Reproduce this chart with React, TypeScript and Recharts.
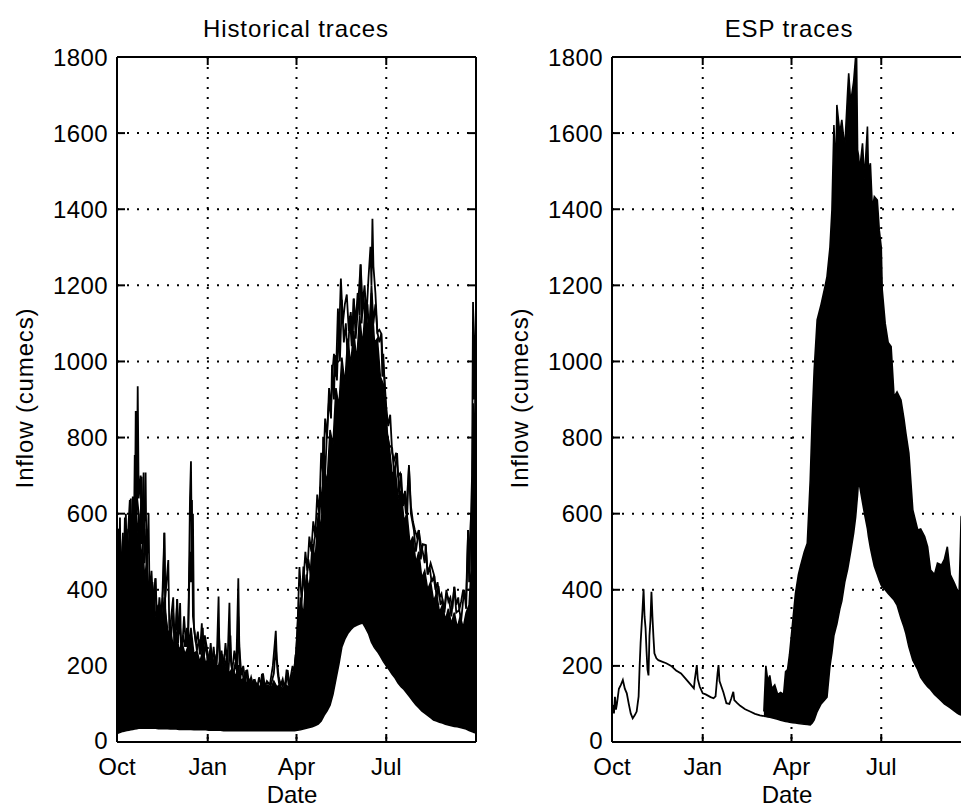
import React from 'react';
import { ComposedChart, Line, Area, XAxis, YAxis, CartesianGrid } from 'recharts';

const monthTicks = [0, 92, 182, 273];
const monthLabels = ['Oct', 'Jan', 'Apr', 'Jul'];
const flowTicks = [0, 200, 400, 600, 800, 1000, 1200, 1400, 1600, 1800];

// Historical traces: dense envelope [day, low, high]
const histBand: [number, number, number][] = [
  [0, 22, 480], [2, 24, 560], [4, 26, 460], [6, 28, 540], [8, 29, 470], [10, 30, 560], [12, 31, 480], [14, 32, 600],
  [16, 33, 500], [18, 34, 620], [20, 35, 540], [22, 36, 600], [24, 36, 480], [26, 36, 520], [28, 36, 430],
  [30, 36, 470], [33, 36, 380], [36, 36, 420], [39, 36, 330], [42, 35, 360], [45, 35, 300], [48, 35, 380],
  [51, 35, 280], [54, 34, 300], [57, 34, 250], [60, 34, 290], [63, 33, 240], [66, 33, 260], [69, 33, 230],
  [72, 33, 250], [75, 33, 300], [78, 32, 230], [81, 32, 240], [84, 32, 210], [87, 32, 240], [90, 32, 205],
  [93, 31, 225], [96, 31, 200], [99, 31, 215], [102, 31, 190], [105, 31, 220], [108, 30, 185], [111, 30, 200],
  [114, 30, 180], [117, 30, 195], [120, 30, 170], [123, 30, 200], [126, 30, 160], [129, 30, 170], [132, 30, 150],
  [135, 30, 165], [138, 30, 145], [141, 30, 155], [144, 30, 140], [147, 30, 160], [150, 30, 138], [153, 30, 150],
  [156, 30, 140], [159, 30, 160], [162, 30, 145], [165, 30, 150], [168, 30, 138], [171, 30, 150], [174, 30, 145],
  [177, 30, 170], [180, 30, 200], [183, 31, 260], [186, 32, 380], [189, 34, 330], [192, 36, 440], [195, 38, 400],
  [198, 40, 520], [201, 43, 480], [204, 47, 600], [207, 55, 560], [210, 70, 720], [213, 82, 680], [216, 97, 820],
  [219, 125, 780], [222, 165, 930], [225, 205, 880], [228, 250, 1010], [231, 270, 940], [234, 285, 1060],
  [237, 295, 990], [240, 303, 1080], [243, 307, 1000], [246, 310, 1120], [249, 313, 1040], [252, 300, 1150],
  [255, 285, 1060], [258, 262, 1180], [261, 248, 1050], [264, 238, 1060], [267, 226, 960], [270, 212, 940],
  [273, 200, 820], [276, 190, 780], [279, 178, 700], [282, 168, 720], [285, 155, 640], [288, 145, 660],
  [291, 138, 580], [294, 128, 600], [297, 118, 520], [300, 108, 540], [303, 98, 470], [306, 90, 500], [309, 82, 430],
  [312, 76, 450], [315, 70, 400], [318, 64, 420], [321, 58, 370], [324, 55, 390], [327, 52, 340], [330, 50, 360],
  [333, 47, 320], [336, 45, 350], [339, 43, 310], [342, 41, 340], [345, 40, 300], [348, 38, 330], [351, 36, 300],
  [354, 34, 340], [357, 30, 360], [359, 28, 450], [361, 26, 800], [362, 25, 650], [364, 24, 1000],
];

// Historical individual spiky traces [day, value]
const histTraceA: [number, number][] = [
  [0, 300], [1, 560], [2, 420], [3, 590], [4, 380], [6, 550], [7, 400], [9, 600], [10, 450], [12, 520], [14, 640],
  [15, 480], [17, 620], [18, 500], [19, 870], [20, 600], [21, 935], [22, 640], [24, 700], [25, 520], [27, 708],
  [28, 470], [30, 560], [31, 380], [33, 420], [35, 320], [37, 380], [39, 430], [40, 330], [42, 360], [44, 300],
  [46, 380], [48, 550], [49, 340], [51, 300], [53, 260], [55, 330], [57, 380], [58, 250], [60, 300], [61, 376],
  [62, 260], [64, 365], [65, 240], [67, 280], [69, 250], [71, 300], [72, 230], [74, 640], [75, 738], [76, 460],
  [77, 600], [78, 300], [80, 260], [82, 290], [84, 230], [86, 312], [87, 220], [89, 280], [91, 250], [93, 200],
  [95, 260], [97, 190], [99, 230], [101, 200], [103, 382], [104, 200], [106, 240], [108, 190], [110, 260],
  [112, 200], [114, 366], [115, 220], [117, 190], [119, 240], [121, 200], [123, 430], [124, 250], [126, 180],
  [128, 200], [130, 160], [132, 190], [134, 150], [136, 170], [138, 150], [140, 160], [142, 140], [144, 170],
  [146, 150], [148, 180], [150, 145], [152, 160], [155, 150], [158, 200], [160, 260], [161, 292], [162, 220],
  [164, 170], [166, 150], [168, 165], [170, 140], [172, 190], [174, 150], [176, 170], [178, 200], [180, 180],
];

const histTraceB: [number, number][] = [
  [180, 160], [183, 300], [185, 460], [187, 380], [189, 420], [191, 500], [193, 450], [195, 540], [197, 500],
  [199, 580], [201, 540], [203, 650], [205, 600], [207, 760], [209, 700], [211, 850], [213, 800], [215, 930],
  [217, 880], [219, 990], [220, 1020], [222, 960], [224, 1139], [225, 1050], [227, 1218], [229, 1100], [231, 1150],
  [233, 1176], [235, 1080], [237, 1130], [239, 1060], [240, 1165], [242, 1100], [244, 1180], [246, 1120],
  [247, 1255], [249, 1150], [251, 1200], [253, 1120], [255, 1220], [257, 1301], [258, 1200], [259, 1375],
  [260, 1250], [262, 1180], [264, 1077], [266, 1050], [268, 1073], [269, 1020], [271, 960], [273, 880], [275, 830],
  [277, 860], [279, 760], [281, 740], [283, 760], [285, 700], [287, 706], [289, 640], [291, 650], [293, 600],
  [295, 680], [296, 723], [298, 620], [300, 580], [302, 557], [304, 540], [306, 557], [308, 520], [310, 500],
  [312, 470], [313, 518], [315, 440], [317, 460], [319, 420], [321, 434], [323, 400], [325, 420], [327, 380],
  [329, 390], [330, 373], [332, 350], [334, 400], [336, 369], [338, 380], [340, 350], [342, 408], [344, 360],
  [346, 380], [347, 347], [349, 370], [351, 400], [352, 390], [354, 380], [356, 557], [357, 450], [359, 601],
  [360, 700], [361, 1156], [362, 900], [363, 1050], [364, 1150],
];

const histTraceC: [number, number][] = [
  [0, 200], [2, 480], [3, 300], [5, 500], [6, 350], [8, 590], [9, 400], [11, 540], [13, 636], [14, 450], [16, 645],
  [17, 500], [18, 754], [19, 520], [20, 650], [22, 600], [23, 480], [25, 697], [26, 500], [28, 600], [29, 708],
  [30, 450], [32, 601], [33, 380], [35, 450], [37, 330], [39, 430], [41, 300], [43, 380], [45, 320], [47, 420],
  [48, 550], [49, 380], [52, 478], [53, 300], [55, 280], [57, 340], [59, 270], [61, 375], [62, 280], [64, 300],
  [66, 240], [68, 330], [70, 250], [72, 280], [74, 500], [75, 420], [76, 636], [77, 330], [79, 280], [81, 240],
  [83, 270], [85, 230], [87, 300], [88, 220], [90, 260], [92, 210], [94, 240], [96, 200], [98, 250], [100, 190],
  [102, 240], [103, 300], [105, 200], [107, 230], [109, 190], [111, 220], [113, 180], [115, 280], [116, 200],
  [118, 170], [120, 210], [122, 180], [123, 330], [125, 170], [127, 190], [129, 150], [131, 189], [133, 140],
  [135, 160], [137, 140], [139, 165], [141, 135], [143, 150], [145, 130], [147, 179], [149, 140], [151, 150],
  [153, 130], [156, 150], [159, 180], [161, 250], [163, 180], [165, 140], [167, 160], [169, 135], [171, 150],
  [173, 189], [175, 150], [177, 170], [179, 160], [181, 230],
];

const histTraceD: [number, number][] = [
  [181, 200], [184, 350], [186, 300], [189, 461], [191, 380], [194, 480], [197, 430], [200, 530], [203, 566],
  [205, 520], [206, 671], [208, 600], [209, 802], [211, 700], [213, 820], [215, 899], [217, 850], [218, 991],
  [220, 900], [221, 1017], [223, 950], [225, 1109], [226, 1000], [228, 1162], [230, 1050], [232, 1100], [234, 1000],
  [236, 1120], [238, 1040], [240, 1165], [242, 1060], [244, 1130], [247, 1255], [248, 1100], [250, 1180],
  [252, 1080], [254, 1150], [256, 1060], [258, 1200], [260, 1100], [262, 1150], [264, 1077], [266, 1083],
  [268, 1073], [269, 960], [270, 1020], [272, 900], [274, 811], [276, 780], [279, 772], [281, 700], [284, 759],
  [286, 650], [288, 706], [290, 620], [292, 660], [294, 580], [296, 728], [298, 600], [301, 557], [303, 500],
  [306, 557], [308, 480], [310, 520], [313, 518], [315, 440], [318, 470], [322, 434], [324, 380], [326, 410],
  [328, 360], [330, 373], [332, 340], [334, 390], [337, 369], [339, 330], [342, 408], [344, 340], [347, 347],
  [349, 320], [352, 400], [354, 350], [356, 557], [357, 420], [359, 601], [360, 500], [361, 890], [362, 700],
  [364, 1030],
];

// ESP traces: common trace before the forecast start [day, value]
const espLead: [number, number][] = [
  [0, 90], [1, 93], [2, 75], [3, 119], [4, 85], [5, 100], [7, 140], [9, 150], [11, 163], [13, 140], [15, 128],
  [17, 100], [19, 75], [21, 62], [23, 70], [25, 80], [27, 120], [28, 198], [29, 260], [31, 350], [32, 401],
  [33, 330], [34, 300], [35, 240], [36, 190], [37, 175], [38, 280], [39, 320], [40, 395], [41, 330], [42, 277],
  [43, 233], [45, 220], [47, 215], [50, 212], [55, 207], [60, 200], [65, 188], [70, 180], [75, 165], [80, 150],
  [83, 141], [84, 165], [86, 202], [87, 165], [89, 145], [92, 128], [95, 125], [100, 118], [103, 115], [105, 120],
  [107, 180], [108, 202], [109, 160], [111, 145], [113, 130], [116, 102], [119, 100], [121, 115], [123, 132],
  [124, 110], [127, 102], [130, 95], [135, 86], [140, 80], [145, 74], [150, 70], [154, 68],
];

// ESP ensemble envelope [day, low, high]
const espBand: [number, number, number][] = [
  [154, 68, 80], [156, 67, 200], [158, 66, 160], [160, 65, 175], [162, 64, 140], [165, 62, 150], [168, 60, 125],
  [171, 57, 130], [174, 55, 125], [176, 54, 185], [178, 53, 190], [180, 52, 230], [183, 51, 310], [186, 50, 390],
  [189, 49, 440], [191, 48, 461], [195, 47, 500], [198, 46, 522], [201, 45, 689], [203, 50, 850], [205, 58, 978],
  [208, 80, 1109], [212, 100, 1150], [216, 112, 1197], [218, 118, 1223], [221, 200, 1300], [223, 235, 1398],
  [225, 280, 1621], [227, 300, 1500], [228, 310, 1674], [231, 350, 1600], [233, 370, 1635], [236, 420, 1560],
  [239, 455, 1713], [240, 470, 1757], [242, 500, 1680], [245, 549, 1735], [247, 590, 1800], [248, 620, 1800],
  [249, 650, 1556], [250, 689, 1540], [251, 675, 1500], [254, 630, 1573], [256, 600, 1480], [259, 560, 1617],
  [260, 540, 1500], [262, 510, 1521], [264, 485, 1400], [266, 462, 1433], [269, 440, 1424], [271, 425, 1345],
  [273, 412, 1300], [274, 408, 1188], [277, 400, 1100], [280, 390, 1050], [283, 382, 1039], [286, 373, 907],
  [289, 360, 920], [293, 325, 899], [296, 303, 850], [298, 285, 811], [301, 250, 759], [305, 215, 610],
  [310, 190, 557], [313, 170, 560], [317, 155, 540], [320, 145, 513], [323, 138, 452], [327, 125, 440],
  [330, 118, 470], [334, 108, 465], [337, 100, 480], [340, 95, 513], [343, 90, 440], [347, 82, 418], [350, 76, 400],
  [352, 73, 392], [354, 71, 592], [356, 69, 600], [360, 62, 620], [364, 55, 600],
];

const FONT = '"Liberation Sans", Arial, Helvetica, sans-serif';

const toBand = (rows: [number, number, number][]) => rows.map(([d, lo, hi]) => ({ d, r: [lo, hi] }));
const toLine = (rows: [number, number][]) => rows.map(([d, v]) => ({ d, v }));

function BottomTick(props: any) {
  const { x, payload } = props;
  const idx = monthTicks.indexOf(payload.value);
  return (
    <g>
      <line x1={x} y1={742} x2={x} y2={734} stroke="#000" strokeWidth={2} />
      <text x={x} y={775} textAnchor="middle" fontFamily={FONT} fontSize={24} fill="#000">
        {monthLabels[idx]}
      </text>
    </g>
  );
}

function TopTick(props: any) {
  const { x } = props;
  return <line x1={x} y1={57} x2={x} y2={65} stroke="#000" strokeWidth={2} />;
}

function LeftTick(props: any) {
  const { y, payload } = props;
  const shift = payload.value === 0 ? -2 : 0;
  return (
    <g>
      <line x1={117} y1={y} x2={125} y2={y} stroke="#000" strokeWidth={2} />
      <text x={108} y={y + 8.5 + shift} textAnchor="end" fontFamily={FONT} fontSize={24} letterSpacing={0.4} fill="#000">
        {String(payload.value)}
      </text>
    </g>
  );
}

function RightTick(props: any) {
  const { y } = props;
  return <line x1={476} y1={y} x2={468} y2={y} stroke="#000" strokeWidth={2} />;
}

type PanelProps = {
  band: [number, number, number][];
  traces: [number, number][][];
};

function Panel({ band, traces }: PanelProps) {
  const axisLine = { stroke: '#000', strokeWidth: 2 };
  return (
    <ComposedChart width={490} height={808} margin={{ top: 56, right: 13, bottom: 65, left: 116 }}>
      <CartesianGrid xAxisId="b" yAxisId="l" stroke="#000" strokeWidth={2} strokeDasharray="2 8" />
      <XAxis xAxisId="b" dataKey="d" type="number" domain={[0, 364]} ticks={monthTicks} interval={0}
        orientation="bottom" height={1} tickSize={0} tickMargin={0} tickLine={false}
        axisLine={axisLine} tick={<BottomTick />} allowDataOverflow />
      <XAxis xAxisId="t" dataKey="d" type="number" domain={[0, 364]} ticks={monthTicks} interval={0}
        orientation="top" height={1} tickSize={0} tickMargin={0} tickLine={false}
        axisLine={axisLine} tick={<TopTick />} allowDataOverflow />
      <YAxis yAxisId="l" type="number" domain={[0, 1800]} ticks={flowTicks} interval={0}
        orientation="left" width={1} tickSize={0} tickMargin={0} tickLine={false}
        axisLine={axisLine} tick={<LeftTick />} allowDataOverflow />
      <YAxis yAxisId="r" type="number" domain={[0, 1800]} ticks={flowTicks} interval={0}
        orientation="right" width={1} tickSize={0} tickMargin={0} tickLine={false}
        axisLine={axisLine} tick={<RightTick />} allowDataOverflow />
      <Area xAxisId="b" yAxisId="l" data={toBand(band)} dataKey="r" type="linear" fill="#000" fillOpacity={1}
        stroke="#000" strokeWidth={1.6} dot={false} activeDot={false} isAnimationActive={false} />
      {traces.map((t, i) => (
        <Line key={i} xAxisId="b" yAxisId="l" data={toLine(t)} dataKey="v" type="linear" stroke="#000"
          strokeWidth={1.8} dot={false} activeDot={false} isAnimationActive={false} />
      ))}
    </ComposedChart>
  );
}

export default function App() {
  const textStyle = { fontFamily: FONT, fontSize: 24, fill: '#000' } as const;
  return (
    <div style={{ position: 'absolute', left: 0, top: 0, width: 961, height: 808, overflow: 'hidden', background: '#fff' }}>
      <div style={{ position: 'absolute', left: 0, top: 0 }}>
        <Panel band={histBand} traces={[histTraceA, histTraceB, histTraceC, histTraceD]} />
      </div>
      <div style={{ position: 'absolute', left: 495, top: 0 }}>
        <Panel band={espBand} traces={[espLead]} />
      </div>
      <svg width={961} height={808} style={{ position: 'absolute', left: 0, top: 0, pointerEvents: 'none' }}>
        <text x={296} y={37} textAnchor="middle" letterSpacing={0.9} {...textStyle}>Historical traces</text>
        <text x={789} y={37} textAnchor="middle" letterSpacing={0.9} {...textStyle}>ESP traces</text>
        <text x={292} y={803} textAnchor="middle" {...textStyle}>Date</text>
        <text x={787} y={803} textAnchor="middle" {...textStyle}>Date</text>
        <text transform="translate(33,398) rotate(-90)" textAnchor="middle" letterSpacing={0.85} {...textStyle}>Inflow (cumecs)</text>
        <text transform="translate(528,398) rotate(-90)" textAnchor="middle" letterSpacing={0.85} {...textStyle}>Inflow (cumecs)</text>
      </svg>
    </div>
  );
}
